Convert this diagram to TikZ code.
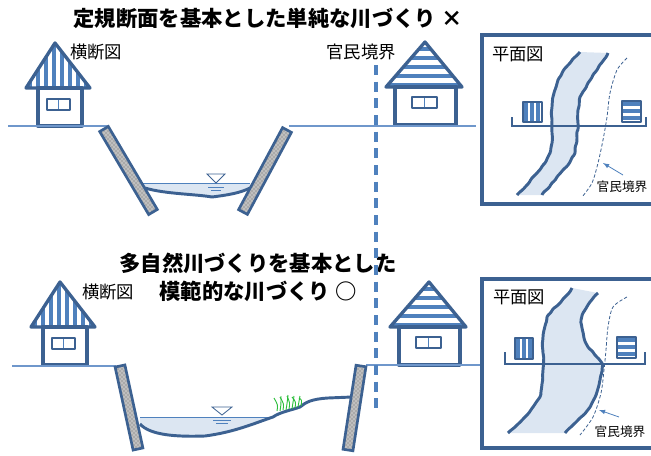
\documentclass[tikz,border=0pt]{standalone}
\usepackage{fontspec}
\newfontfamily\jp{Noto Sans CJK JP}
\usetikzlibrary{patterns,calc,decorations.pathmorphing}
\definecolor{linedark}{HTML}{3C6191}
\definecolor{stripeblue}{HTML}{4F81BD}
\definecolor{waterblue}{HTML}{DCE6F2}
\definecolor{groundblue}{HTML}{6F97CB}
\definecolor{grassgreen}{HTML}{2DBE3C}

\begin{document}
\begin{tikzpicture}[x=0.75pt, y=-0.75pt,
    house/.style={draw=linedark, line width=2.5pt, line join=round},
    stripe/.style={stripeblue, line width=3pt},
    ground/.style={groundblue, line width=0.8pt},
    wall/.style={draw=linedark, line width=2pt, preaction={fill=gray!50},
      pattern=crosshatch dots, pattern color=black!60},
    bed/.style={linedark, line width=2.2pt},
    bank/.style={linedark, line width=2.2pt, line join=round, rounded corners=1pt,
      decorate, decoration={random steps, segment length=3pt, amplitude=0.6pt}},
    road/.style={linedark, line width=2.2pt},
    frame/.style={draw=linedark, line width=2.4pt},
    border/.style={stripeblue, line width=2.3pt, dash pattern=on 7.5pt off 5pt},
    boundary/.style={linedark, line width=0.6pt, dash pattern=on 2.5pt off 1.5pt},
    grass/.style={grassgreen, line width=0.7pt},
    title/.style={font=\jp\bfseries\fontsize{16}{21}\selectfont, align=center},
    label/.style={font=\jp\fontsize{13}{15}\selectfont},
    small/.style={font=\jp\fontsize{9.5}{11}\selectfont}]
  \useasboundingbox (0,0) rectangle (651,455);
  \pgfmathsetseed{7}

  % titles and labels
  \node[title] (title1) at (268,18) {定規断面を基本とした単純な川づくり ×};
  \node[title] (title2) at (258,277) {多自然川づくりを基本とした\\模範的な川づくり ○};
  \node[label] (sec1) at (96,52) {横断図};
  \node[label] (sec2) at (108,292) {横断図};
  \node[label] (bnd) at (361,52) {官民境界};

  % houses (top row, bottom row shifted)
  \foreach \dx/\dy in {0/0, 5/239} {
    \begin{scope}[shift={(\dx,\dy)}]
      \begin{scope}
        \clip (26,88) -- (55,43) -- (90,88) -- cycle;
        \foreach \x in {30,38,...,90} \draw[stripe] (\x,40) -- (\x,90);
      \end{scope}
      \draw[house] (26,88) -- (55,43) -- (90,88) -- cycle;
      \draw[house] (38,88) rectangle (82,126);
      \draw[house, line width=2pt] (47,99) rectangle (70,110);
      \draw[stripeblue, line width=0.6pt] (58.5,100) -- (58.5,109);
    \end{scope}
  }
  \foreach \dx/\dy in {0/0, 4/240} {
    \begin{scope}[shift={(\dx,\dy)}]
      \begin{scope}
        \clip (386,87) -- (425,42) -- (462,87) -- cycle;
        \foreach \y in {49,58,...,90} \draw[stripe] (380,\y) -- (470,\y);
      \end{scope}
      \draw[house] (386,87) -- (425,42) -- (462,87) -- cycle;
      \draw[house] (395,87) rectangle (456,125);
      \draw[house, line width=2pt] (412,97) rectangle (437,108);
      \draw[stripeblue, line width=0.6pt] (424.5,98) -- (424.5,107);
    \end{scope}
  }

  % ground lines
  \draw[ground] (8,126) -- (108,126);
  \draw[ground] (289,126) -- (476,126);
  \draw[ground] (12,366) -- (116,366);
  \draw[ground] (366,365) -- (482,365);

  % top section: straight concrete channel
  \fill[waterblue] (143,183) -- (250,183) -- (250,188)
    .. controls (240,193) and (228,195) .. (212,197)
    .. controls (195,194) and (165,194) .. (145,188) -- cycle;
  \draw[stripeblue, line width=0.6pt] (143,183) -- (250,183);
  \draw[bed] (145,188) .. controls (165,194) and (195,194) .. (212,197)
    .. controls (228,195) and (240,193) .. (250,188);
  \draw[wall] ($(104,129)!3.75pt!90:(153,212)$) -- ($(104,129)!3.75pt!-90:(153,212)$)
    -- ($(153,212)!3.75pt!90:(104,129)$) -- ($(153,212)!3.75pt!-90:(104,129)$) -- cycle;
  \draw[wall] ($(287,130)!3.75pt!90:(243,212)$) -- ($(287,130)!3.75pt!-90:(243,212)$)
    -- ($(243,212)!3.75pt!90:(287,130)$) -- ($(243,212)!3.75pt!-90:(287,130)$) -- cycle;
  \draw[linedark, line width=0.6pt] (207,174) -- (225,174) -- (216,183) -- cycle;
  \draw[stripeblue, line width=0.6pt] (208,187) -- (224,187) (211,190.5) -- (221,190.5);

  % bottom section: natural channel with bank
  \fill[waterblue] (140,417) -- (273,417)
    .. controls (255,423) and (235,432) .. (205,436)
    .. controls (175,437) and (150,435) .. (140,424) -- cycle;
  \draw[stripeblue, line width=0.6pt] (140,417) -- (273,417);
  \draw[bed] (140,424) .. controls (150,435) and (175,437) .. (205,436)
    .. controls (235,432) and (255,423) .. (273,417)
    .. controls (280,412) and (292,410) .. (300,407)
    .. controls (306,402) and (312,399) .. (328,398)
    -- (352,397);
  \foreach \bx/\by/\tx/\ty in {277/411/274/398, 280/411/281/396, 283/410/280/397,
      286/410/288/395, 289/409/287/396, 292/409/294/396, 295/408/292/397,
      298/407/300/396, 301/406/299/398}
    \draw[grass] (\bx,\by) .. controls (\bx+1,\by-6) .. (\tx,\ty);
  \draw[wall] ($(120,366)!3.75pt!90:(138,449)$) -- ($(120,366)!3.75pt!-90:(138,449)$)
    -- ($(138,449)!3.75pt!90:(120,366)$) -- ($(138,449)!3.75pt!-90:(120,366)$) -- cycle;
  \draw[wall] ($(361,366)!3.75pt!90:(348,450)$) -- ($(361,366)!3.75pt!-90:(348,450)$)
    -- ($(348,450)!3.75pt!90:(361,366)$) -- ($(348,450)!3.75pt!-90:(361,366)$) -- cycle;
  \draw[linedark, line width=0.6pt] (212,407) -- (232,407) -- (222,415) -- cycle;
  \draw[stripeblue, line width=0.6pt] (213,420) -- (231,420) (216,423.5) -- (228,423.5);

  % property boundary
  \draw[border] (376,65) -- (376,408);

  % plan views
  \draw[frame] (482,35) rectangle (665,204);
  \node[label] (plan1) at (518,54) {平面図};
  \fill[waterblue] plot[smooth] coordinates {(517,195) (537,173) (550,153) (552,133)
      (552,107) (558,80) (570,63) (580,52)}
    -- plot[smooth] coordinates {(608,53) (597,70) (580,97) (578,123) (575,153)
      (563,170) (542,195)} -- cycle;
  \draw[bank] plot coordinates {(517,195) (528,184) (537,173) (545,163) (550,153)
      (552,143) (552,133) (552,120) (552,107) (554,93) (558,80) (563,71) (570,63)
      (580,52)};
  \draw[bank] plot coordinates {(608,53) (603,61) (597,70) (588,83) (580,97)
      (578,110) (578,123) (577,138) (575,153) (570,162) (563,170) (552,183)
      (542,195)};
  \draw[road] (512,117) -- (512,126) -- (646,126) -- (646,117);
  \begin{scope}
    \clip (523,102) rectangle (542,122);
    \foreach \x in {526,532,538} \draw[stripe, line width=2.6pt] (\x,100) -- (\x,124);
  \end{scope}
  \draw[house, line width=0.8pt] (523,102) rectangle (542,122);
  \begin{scope}
    \clip (622,101) rectangle (641,122);
    \foreach \y in {104,111,118} \draw[stripe, line width=2.6pt] (620,\y) -- (643,\y);
  \end{scope}
  \draw[house, line width=0.8pt] (622,101) rectangle (641,122);
  \draw[boundary] plot[smooth] coordinates {(627,58) (617,70) (610,93) (607,117)
      (603,140) (598,163) (592,183) (582,197)};
  \node[small] (bnd1) at (622,187) {官民境界};
  \coordinate (tip1) at (603,163);
  \draw[stripeblue, line width=0.6pt, ->, >=latex] (623,175) -- (tip1);

  \draw[frame] (482,279) rectangle (665,448);
  \node[label] (plan2) at (519,297) {平面図};
  \fill[waterblue] plot[smooth] coordinates {(508,433) (525,417) (540,397) (543,370)
      (543,337) (547,317) (560,303) (572,288)}
    -- plot[smooth] coordinates {(598,293) (583,313) (582,328) (588,347) (602,363)
      (600,380) (592,403) (580,418) (565,433)} -- cycle;
  \draw[bank] plot coordinates {(508,433) (517,425) (525,417) (533,407) (540,397)
      (542,384) (543,370) (543,353) (543,337) (545,326) (547,317) (553,309)
      (560,303) (566,296) (572,288)};
  \draw[bank] plot coordinates {(598,293) (590,302) (583,313) (581,320) (582,328)
      (584,338) (588,347) (595,355) (602,363) (602,371) (600,380) (597,392)
      (592,403) (587,411) (580,418) (572,426) (565,433)};
  \draw[road] (505,352) -- (505,364) -- (645,364) -- (645,352);
  \begin{scope}
    \clip (515,338) rectangle (533,359);
    \foreach \x in {518,524,530} \draw[stripe, line width=2.6pt] (\x,336) -- (\x,361);
  \end{scope}
  \draw[house, line width=0.8pt] (515,338) rectangle (533,359);
  \begin{scope}
    \clip (617,337) rectangle (636,358);
    \foreach \y in {340,347,354} \draw[stripe, line width=2.6pt] (615,\y) -- (638,\y);
  \end{scope}
  \draw[house, line width=0.8pt] (617,337) rectangle (636,358);
  \draw[boundary] plot[smooth] coordinates {(627,297) (613,307) (608,327) (606,350)
      (604,370) (601,393) (593,417) (580,435)};
  \node[small] (bnd2) at (620,432) {官民境界};
  \coordinate (tip2) at (599,410);
  \draw[stripeblue, line width=0.6pt, ->, >=latex] (619,417) -- (tip2);
\end{tikzpicture}
\end{document}
